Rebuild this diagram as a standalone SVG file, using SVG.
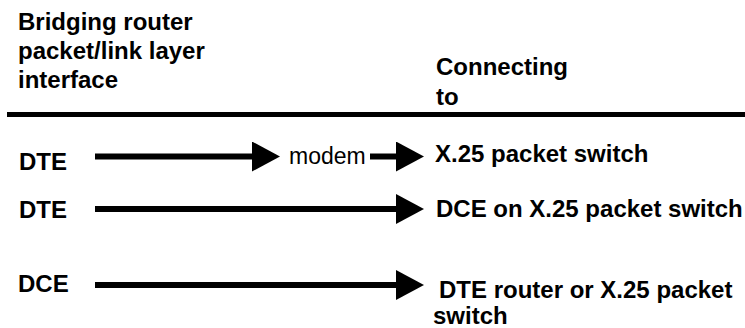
<svg xmlns="http://www.w3.org/2000/svg" width="745" height="328" viewBox="0 0 745 328">
<style>
text{font-family:"Liberation Sans",Arial,sans-serif;font-size:23px;fill:#000}
.b{font-weight:bold;font-size:24px}
.ln{stroke:#000;stroke-width:6;fill:none}
</style>
<defs>
<marker id="ah" markerUnits="userSpaceOnUse" markerWidth="30" markerHeight="32" refX="0" refY="15" orient="auto" viewBox="0 0 30 32">
<polygon points="0,0 28,15 0,30" fill="#000"/>
</marker>
</defs>
<rect width="745" height="328" fill="#fff"/>
<g id="header">
<text class="b" x="18" y="30">Bridging router</text>
<text class="b" x="18" y="59">packet/link layer</text>
<text class="b" x="18" y="88">interface</text>
<text class="b" x="436" y="75">Connecting</text>
<text class="b" x="436" y="105">to</text>
<line x1="7" y1="114.5" x2="745" y2="114.5" stroke="#000" stroke-width="5"/>
</g>
<g id="row1">
<text class="b" x="19" y="170">DTE</text>
<text x="289" y="164">modem</text>
<text class="b" x="435" y="162">X.25 packet switch</text>
</g>
<g id="row2">
<text class="b" x="19" y="218">DTE</text>
<text class="b" x="436" y="217">DCE on X.25 packet switch</text>
</g>
<g id="row3">
<text class="b" x="18" y="292">DCE</text>
<text class="b" x="439" y="298">DTE router or X.25 packet</text>
<text class="b" x="433" y="324">switch</text>
</g>
<g id="connectors">
<line class="ln" x1="95" y1="156.5" x2="252" y2="156.5" marker-end="url(#ah)"/>
<line class="ln" x1="370" y1="156.5" x2="396" y2="156.5" marker-end="url(#ah)"/>
<line class="ln" x1="95" y1="209" x2="396" y2="209" marker-end="url(#ah)"/>
<line class="ln" x1="95" y1="285" x2="396" y2="285" marker-end="url(#ah)"/>
</g>
</svg>
